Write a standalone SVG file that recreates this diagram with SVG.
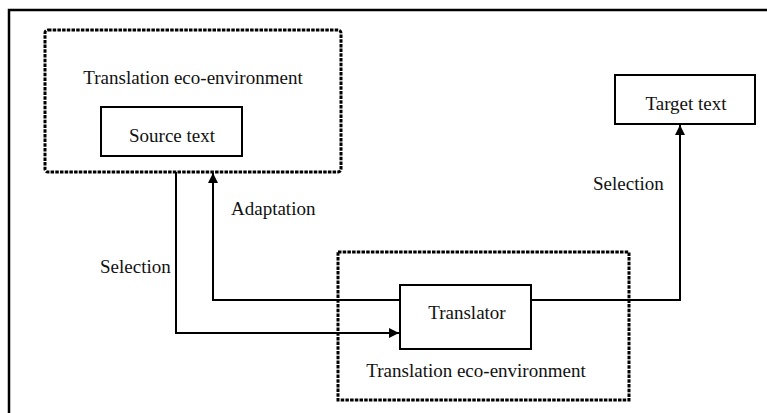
<svg xmlns="http://www.w3.org/2000/svg" width="767" height="413" viewBox="0 0 767 413">
<style>
text{font-family:"Liberation Serif","Times New Roman",serif;font-size:19px;fill:#111;}
.box{fill:#fff;stroke:#000;stroke-width:2;}
.env{fill:none;stroke:#000;stroke-width:3;stroke-dasharray:3.5 1.2;}
.conn{fill:none;stroke:#000;stroke-width:2;}
</style>
<defs>
<marker id="ah" viewBox="0 0 10 10" refX="10" refY="5" markerWidth="10" markerHeight="10" markerUnits="userSpaceOnUse" orient="auto">
<path d="M0,0 L10,5 L0,10 z" fill="#000"/>
</marker>
</defs>
<rect width="767" height="413" fill="#fff"/>
<path d="M9,413 V10 H767" fill="none" stroke="#000" stroke-width="2.5"/>
<g id="env1">
<rect class="env" x="45" y="30" width="296" height="142" rx="3"/>
<text x="193" y="84" text-anchor="middle">Translation eco-environment</text>
</g>
<g id="source">
<rect class="box" x="101" y="107" width="141" height="49"/>
<text x="172" y="142" text-anchor="middle">Source text</text>
</g>
<g id="target">
<rect class="box" x="615" y="75" width="140" height="49"/>
<text x="686" y="110" text-anchor="middle">Target text</text>
</g>
<g id="env2">
<rect class="env" x="338" y="252" width="291" height="148"/>
<text x="476" y="377" text-anchor="middle">Translation eco-environment</text>
</g>
<g id="connectors">
<path class="conn" d="M176,172 V333 H399" marker-end="url(#ah)"/>
<path class="conn" d="M400,300 H213 V173" marker-end="url(#ah)"/>
<path class="conn" d="M531,300 H680 V125" marker-end="url(#ah)"/>
</g>
<g id="translator">
<rect class="box" x="400" y="285" width="131" height="64"/>
<text x="467" y="319" text-anchor="middle">Translator</text>
</g>
<g id="labels">
<text x="231" y="215">Adaptation</text>
<text x="100" y="273">Selection</text>
<text x="593" y="190">Selection</text>
</g>
</svg>
